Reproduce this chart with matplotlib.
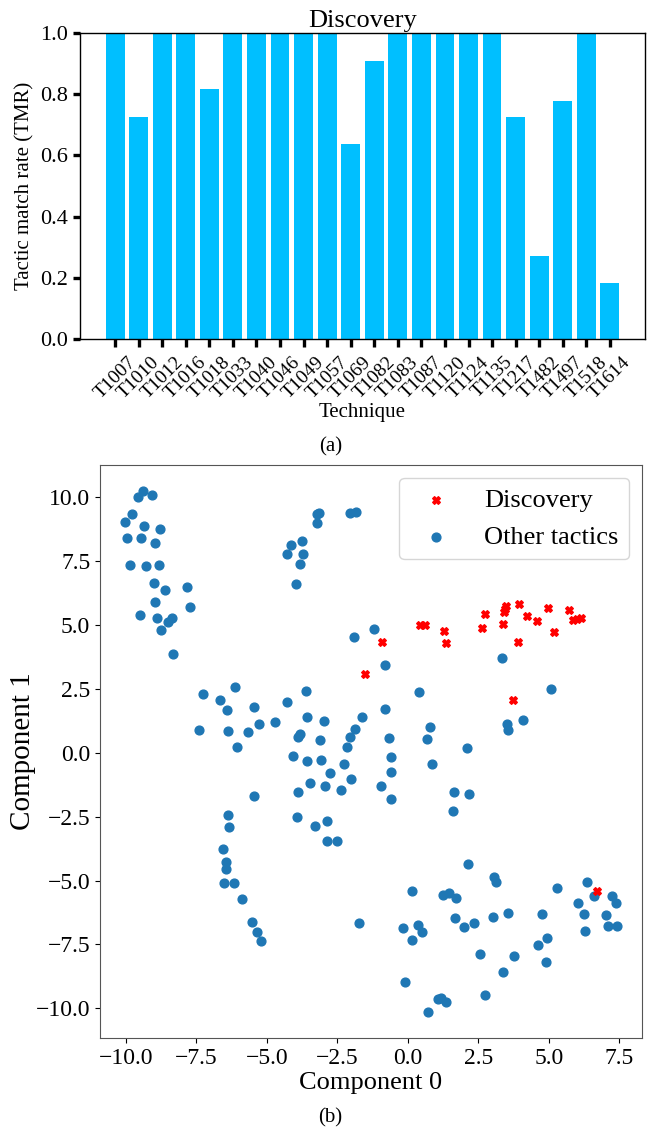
import matplotlib
matplotlib.use('Agg')
import matplotlib.pyplot as plt

plt.rcParams['font.family'] = ['Liberation Serif', 'DejaVu Serif']
plt.rcParams['mathtext.fontset'] = 'stix'

# (a) tactic match rate per technique
techniques = ['T1007', 'T1010', 'T1012', 'T1016', 'T1018', 'T1033', 'T1040', 'T1046',
              'T1049', 'T1057', 'T1069', 'T1082', 'T1083', 'T1087', 'T1120', 'T1124',
              'T1135', 'T1217', 'T1482', 'T1497', 'T1518', 'T1614']
tmr = [1.0, 0.727, 1.0, 1.0, 0.818, 1.0, 1.0, 1.0,
       1.0, 1.0, 0.636, 0.909, 1.0, 1.0, 1.0, 1.0,
       1.0, 0.727, 0.273, 0.778, 1.0, 0.182]

# (b) 2-D embedding, Discovery vs other tactics
disc_x = [-1.52, -0.90, 0.43, 0.62, 1.29, 1.36, 2.64, 2.73, 3.38, 3.42, 3.45, 3.49,
          3.95, 4.21, 4.58, 3.89, 4.96, 5.17, 5.72, 5.87, 6.01, 6.14, 3.72, 6.71]
disc_y = [3.09, 4.32, 4.98, 4.98, 4.75, 4.29, 4.89, 5.42, 5.05, 5.50, 5.62, 5.73,
          5.83, 5.33, 5.14, 4.32, 5.64, 4.72, 5.57, 5.20, 5.24, 5.28, 2.06, -5.42]

other_x = [-9.39, -9.56, -9.08, -9.78, -10.04, -9.36, -8.77, -9.95, -9.45, -8.97,
           -9.85, -9.27, -8.81, -9.01, -8.61, -7.83, -8.95, -7.72, -9.50, -8.91,
           -8.52, -8.37, -8.75, -8.34,
           -3.23, -3.14, -3.23, -2.06, -1.83, -3.75, -4.13, -4.27, -3.70, -3.84, -3.98,
           -1.20, -1.92,
           -7.26, -6.11, -6.66, -5.47, -6.40, -3.60, -4.29, -7.40, -6.39, -5.66,
           -5.28, -4.71, -6.06, -3.56, -2.98, -3.84, -3.88, -3.13, -1.61, -1.88,
           -2.05, -2.15,
           -4.08, -3.58, -3.09, -2.25, -2.77, -2.00, -3.46, -2.92, -2.37, -3.88,
           -5.46, -6.38, -6.34, -3.94, -3.30, -2.86, -2.85, -2.50, -6.56, -6.45,
           -6.45, -6.50, -6.18, -5.87, -5.52, -5.35, -5.21, -1.73,
           -0.82, 0.38, -0.82, 0.79, -0.68, 0.68, -0.61, 2.09, 3.35, 5.08, 3.50,
           3.55, 4.10,
           0.86, -0.58, -0.95, -0.61, 1.65, 2.18, 1.61, 2.12, 0.16, 3.04, 3.13,
           1.26, 1.46, 1.72, 5.30, 6.35, 6.59, 7.25, 7.39, 6.05, 6.26, 7.04, 7.11,
           7.43, 6.28, 4.77, 4.93, 4.62, 4.91, 3.56, 3.02, 2.35, 1.98, 1.67, -0.18,
           0.37, 0.52, 0.15, 2.57, 3.76, 3.37, -0.09, 2.74, 1.07, 1.18, 1.36, 0.73]
other_y = [10.23, 9.98, 10.06, 9.32, 9.02, 8.87, 8.76, 8.41, 8.38, 8.18,
           7.32, 7.29, 7.32, 6.65, 6.35, 6.48, 5.88, 5.68, 5.38, 5.25,
           5.10, 5.25, 4.80, 3.85,
           9.34, 9.38, 8.98, 9.38, 9.41, 8.29, 8.12, 7.78, 7.78, 7.36, 6.58,
           4.84, 4.51,
           2.30, 2.56, 2.06, 1.79, 1.66, 2.42, 1.98, 0.89, 0.85, 0.81,
           1.11, 1.19, 0.23, 1.39, 1.23, 0.75, 0.62, 0.50, 1.39, 0.91,
           0.63, 0.23,
           -0.14, -0.33, -0.27, -0.46, -0.81, -1.01, -1.19, -1.31, -1.45, -1.53,
           -1.69, -2.45, -2.90, -2.52, -2.86, -2.68, -3.45, -3.45, -3.76, -4.28,
           -4.55, -5.08, -5.08, -5.72, -6.63, -7.02, -7.36, -6.66,
           3.42, 2.39, 1.70, 1.00, 0.57, 0.55, -0.17, 0.19, 3.72, 2.48, 1.14,
           0.88, 1.28,
           -0.45, -0.76, -1.29, -1.80, -1.52, -1.60, -2.27, -4.36, -5.42, -4.85, -5.05,
           -5.55, -5.48, -5.67, -5.31, -5.05, -5.62, -5.59, -5.87, -5.87, -6.32, -6.36, -6.79,
           -6.79, -6.96, -6.32, -7.23, -7.53, -8.18, -6.26, -6.41, -6.65, -6.80, -6.46, -6.86,
           -6.75, -7.02, -7.34, -7.86, -7.95, -8.57, -8.95, -9.46, -9.62, -9.59, -9.75, -10.14]

fig = plt.figure(figsize=(6.54, 11.32), dpi=100)

# ---- bar chart ----
ax1 = fig.add_axes([0.1223, 0.7005, 0.8639, 0.2703])
ax1.bar(range(len(techniques)), tmr, width=0.8, color='#00BFFF')
ax1.set_ylim(0, 1.0)
ax1.set_xticks(range(len(techniques)))
ax1.set_xticklabels(techniques, rotation=45, fontsize=14)
ax1.set_yticks([0.0, 0.2, 0.4, 0.6, 0.8, 1.0])
ax1.set_yticklabels(['0.0', '0.2', '0.4', '0.6', '0.8', '1.0'], fontsize=16)
ax1.tick_params(width=2.4, length=5, color='black')
ax1.tick_params(axis='x', length=5.5, pad=5)
ax1.set_title('Discovery', fontsize=19, pad=4)
ax1.set_xlabel('Technique', fontsize=15, labelpad=1)
ax1.set_ylabel('Tactic match rate (TMR)', fontsize=15)
for sp in ax1.spines.values():
    sp.set_color('black')
    sp.set_linewidth(1.0)

fig.text(0.505, 1 - 447 / 1132, '(a)', ha='center', va='center', fontsize=15)

# ---- scatter ----
ax2 = fig.add_axes([0.1529, 0.0830, 0.8288, 0.5062])
ax2.scatter(other_x, other_y, s=40, color='#1f77b4', label='Other tactics')
ax2.scatter(disc_x, disc_y, s=30, marker='X', color='red', label='Discovery')
ax2.tick_params(labelsize=17)
ax2.set_xticks([-10.0, -7.5, -5.0, -2.5, 0.0, 2.5, 5.0, 7.5])
ax2.set_yticks([-10.0, -7.5, -5.0, -2.5, 0.0, 2.5, 5.0, 7.5, 10.0])
ax2.set_xlabel('Component 0', fontsize=19, labelpad=2)
ax2.set_ylabel('Component 1', fontsize=21, labelpad=0)
for sp in ax2.spines.values():
    sp.set_color('#555555')
handles, labels = ax2.get_legend_handles_labels()
ax2.legend(handles[::-1], labels[::-1], loc='upper right', fontsize=19)

fig.text(0.505, 1 - 1118 / 1132, '(b)', ha='center', va='center', fontsize=15)

fig.savefig('out.png', dpi=100)
